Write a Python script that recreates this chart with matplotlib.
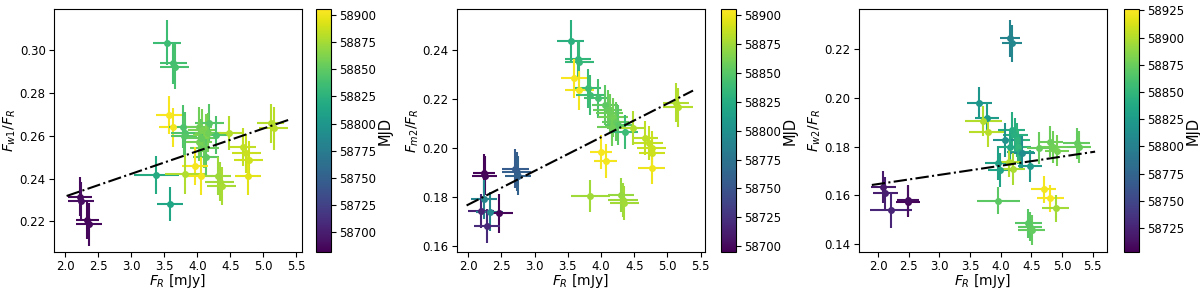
import numpy as np
import matplotlib
matplotlib.use("Agg")
import matplotlib.pyplot as plt
from matplotlib import cm, colors

# panel 1: F_w1 / F_R
x1 = [2.23, 2.24, 2.34, 2.36, 3.38, 3.59, 3.54, 3.64, 3.66, 3.57, 3.64, 3.78, 3.82, 3.80,
      4.03, 4.08, 4.13, 4.18, 4.28, 4.03, 4.11, 4.13, 4.06, 4.16, 4.48, 4.69, 4.74, 4.78,
      5.11, 5.16, 3.97, 3.82, 4.06, 4.31, 4.34, 4.37, 4.77]
y1 = [0.2315, 0.2296, 0.2206, 0.2187, 0.2416, 0.2281, 0.3034, 0.2938, 0.2922, 0.2696, 0.2639,
      0.2642, 0.2611, 0.2600, 0.2642, 0.2626, 0.2603, 0.2658, 0.2603, 0.2572, 0.2541, 0.2502,
      0.2590, 0.2615, 0.2611, 0.2548, 0.2517, 0.2486, 0.2658, 0.2634, 0.2458, 0.2419, 0.2411,
      0.2411, 0.2385, 0.2366, 0.2411]
xe1 = [0.18, 0.2, 0.17, 0.2, 0.34, 0.2, 0.21, 0.2, 0.22, 0.2, 0.22, 0.2, 0.22, 0.2,
       0.2, 0.22, 0.2, 0.22, 0.2, 0.2, 0.22, 0.2, 0.22, 0.2, 0.2, 0.2, 0.22, 0.22,
       0.2, 0.22, 0.2, 0.3, 0.2, 0.2, 0.22, 0.22, 0.2]
ye1 = [0.009, 0.009, 0.009, 0.01, 0.009, 0.008, 0.0105, 0.0095, 0.0105, 0.009, 0.009,
       0.01, 0.01, 0.009, 0.009, 0.01, 0.01, 0.009, 0.009, 0.009, 0.009, 0.009, 0.009, 0.009,
       0.008, 0.009, 0.009, 0.009, 0.009, 0.01, 0.009, 0.009, 0.009, 0.009, 0.009, 0.009, 0.009]
mjd1 = [58688, 58690, 58685, 58687, 58818, 58814, 58835, 58838, 58840, 58903, 58901, 58842,
        58844, 58846, 58856, 58860, 58862, 58846, 58842, 58858, 58855, 58850, 58852, 58857,
        58880, 58884, 58886, 58888, 58880, 58882, 58902, 58878, 58900, 58872, 58874, 58876, 58895]
fit1 = [2.025, 5.405]
slope1, icpt1 = 0.01059, 0.2104

# panel 2: F_m2 / F_R
x2 = [2.24, 2.25, 2.24, 2.19, 2.32, 2.47, 2.28, 2.71, 2.73, 2.75, 3.54, 3.65, 3.67, 3.59,
      3.67, 3.80, 3.84, 3.95, 4.06, 4.10, 4.13, 4.18, 4.22, 4.26, 4.16, 4.36, 4.48, 4.66,
      4.72, 4.76, 4.77, 4.76, 5.13, 5.16, 4.00, 4.07, 3.84, 4.30, 4.33, 4.35]
y2 = [0.1896, 0.1886, 0.1790, 0.1742, 0.1739, 0.1732, 0.1680, 0.1915, 0.1902, 0.1885, 0.2438,
      0.2362, 0.2352, 0.2284, 0.2236, 0.2243, 0.2216, 0.2202, 0.2175, 0.2155, 0.2141, 0.2125,
      0.2107, 0.2093, 0.2086, 0.2066, 0.2080, 0.2039, 0.2019, 0.1998, 0.1980, 0.1916, 0.2185,
      0.2166, 0.1984, 0.1946, 0.1803, 0.1807, 0.1787, 0.1773]
xe2 = [0.17, 0.19, 0.2, 0.2, 0.2, 0.2, 0.2, 0.2, 0.22, 0.2, 0.2, 0.2, 0.22, 0.2,
       0.22, 0.2, 0.22, 0.2, 0.2, 0.22, 0.2, 0.22, 0.2, 0.2, 0.22, 0.2, 0.2, 0.2,
       0.22, 0.22, 0.2, 0.2, 0.2, 0.22, 0.17, 0.17, 0.3, 0.2, 0.22, 0.22]
ye2 = [0.008, 0.008, 0.008, 0.007, 0.008, 0.008, 0.007, 0.008, 0.008, 0.008, 0.0085,
       0.008, 0.0085, 0.008, 0.008, 0.008, 0.008, 0.008, 0.008, 0.008, 0.008, 0.008, 0.008,
       0.008, 0.008, 0.007, 0.007, 0.007, 0.007, 0.007, 0.007, 0.0065, 0.008, 0.008, 0.007,
       0.007, 0.0065, 0.007, 0.007, 0.007]
mjd2 = [58697, 58699, 58790, 58716, 58792, 58698, 58720, 58756, 58758, 58760, 58828, 58833,
        58835, 58903, 58901, 58838, 58840, 58843, 58853, 58856, 58858, 58860, 58855, 58851,
        58859, 58838, 58880, 58884, 58886, 58888, 58889, 58900, 58880, 58882, 58903, 58901,
        58875, 58872, 58874, 58876]
fit2 = [1.975, 5.385]
slope2, icpt2 = 0.01378, 0.1492

# panel 3: F_w2 / F_R
x3 = [2.09, 2.12, 2.21, 2.49, 2.49, 4.155, 4.19, 3.655, 3.775, 3.72, 3.79, 4.18, 4.24, 4.26,
      4.29, 4.32, 4.07, 4.15, 4.345, 4.48, 3.96, 3.99, 4.13, 4.20, 4.63, 4.81, 4.86, 4.92,
      5.24, 5.28, 4.70, 4.81, 4.90, 3.96, 4.45, 4.48, 4.51]
y3 = [0.1636, 0.1609, 0.1541, 0.1575, 0.1580, 0.2245, 0.2225, 0.1981, 0.1917, 0.1906, 0.1862,
      0.1869, 0.1848, 0.1828, 0.1800, 0.1780, 0.1828, 0.1800, 0.1773, 0.1721, 0.1732, 0.1705,
      0.1739, 0.1708, 0.1794, 0.1821, 0.1800, 0.1784, 0.1814, 0.1800, 0.1626, 0.1589, 0.1548,
      0.1579, 0.1486, 0.1472, 0.1458]
xe3 = [0.2, 0.2, 0.34, 0.2, 0.18, 0.16, 0.16, 0.2, 0.2, 0.3, 0.3, 0.22, 0.2, 0.22,
       0.2, 0.22, 0.2, 0.2, 0.22, 0.2, 0.22, 0.2, 0.2, 0.2, 0.2, 0.2, 0.22, 0.2,
       0.22, 0.2, 0.2, 0.22, 0.22, 0.35, 0.22, 0.2, 0.22]
ye3 = [0.0065, 0.0065, 0.0075, 0.0065, 0.0065, 0.0075, 0.0075, 0.0065, 0.0065, 0.006, 0.0065,
       0.0075, 0.007, 0.007, 0.007, 0.007, 0.007, 0.007, 0.007, 0.0065, 0.007, 0.007, 0.0065,
       0.0065, 0.0065, 0.0065, 0.0065, 0.0065, 0.0065, 0.0065, 0.0055, 0.0055, 0.0055, 0.0055,
       0.006, 0.006, 0.006]
mjd3 = [58718, 58722, 58726, 58706, 58710, 58803, 58806, 58820, 58825, 58900, 58902, 58842,
        58844, 58847, 58850, 58840, 58815, 58837, 58812, 58824, 58830, 58832, 58900, 58898,
        58874, 58876, 58878, 58880, 58872, 58874, 58922, 58924, 58895, 58870, 58868, 58870, 58872]
fit3 = [1.90, 5.54]
slope3, icpt3 = 0.00376, 0.15716

panels = [
    (x1, y1, xe1, ye1, mjd1, fit1, slope1, icpt1, r'$F_{w1}/F_R$', (58682, 58905),
     (1.834, 5.586), (0.2057, 0.319), [0.22, 0.24, 0.26, 0.28, 0.30], np.arange(58700, 58901, 25),
     [0.045, 0.2633]),
    (x2, y2, xe2, ye2, mjd2, fit2, slope2, icpt2, r'$F_{m2}/F_R$', (58695, 58905),
     (1.83, 5.565), (0.1574, 0.2566), [0.16, 0.18, 0.20, 0.22, 0.24], np.arange(58700, 58901, 25),
     [0.3808, 0.6008]),
    (x3, y3, xe3, ye3, mjd3, fit3, slope3, icpt3, r'$F_{w2}/F_R$', (58703, 58926),
     (1.686, 5.73), (0.1368, 0.2364), [0.14, 0.16, 0.18, 0.20, 0.22], np.arange(58725, 58926, 25),
     [0.7156, 0.9367]),
]

fig = plt.figure(figsize=(12, 2.94), dpi=100)
cmap = plt.get_cmap('viridis')

for (x, y, xe, ye, mjd, fit, slope, icpt, ylab, vlim, xl, yl, yt, ct, pos) in panels:
    ax = fig.add_axes([pos[0], 0.143, 0.2067, 0.825])
    cax = fig.add_axes([pos[1], 0.143, 0.0122, 0.825])
    norm = colors.Normalize(vmin=vlim[0], vmax=vlim[1])
    for i in range(len(x)):
        ax.errorbar(x[i], y[i], xerr=xe[i], yerr=ye[i], fmt='o', ms=4,
                    color=cmap(norm(mjd[i])), elinewidth=1.5, capsize=0)
    xf = np.linspace(fit[0], fit[1], 50)
    ax.plot(xf, slope * xf + icpt, 'k-.', lw=1.5, zorder=5)
    ax.set_xlim(xl)
    ax.set_ylim(yl)
    ax.set_xticks([2.0, 2.5, 3.0, 3.5, 4.0, 4.5, 5.0, 5.5])
    ax.set_yticks(yt)
    ax.tick_params(labelsize=8.5, pad=2.5)
    ax.set_xlabel(r'$F_R$ [mJy]', fontsize=10, labelpad=-1)
    ax.set_ylabel(ylab, fontsize=10, labelpad=1)
    sm = cm.ScalarMappable(norm=norm, cmap=cmap)
    cb = fig.colorbar(sm, cax=cax, ticks=ct)
    cb.ax.tick_params(labelsize=8.5, pad=2.5)
    cb.set_label('MJD', fontsize=10.5, labelpad=1)

fig.savefig('out.png', dpi=100)
